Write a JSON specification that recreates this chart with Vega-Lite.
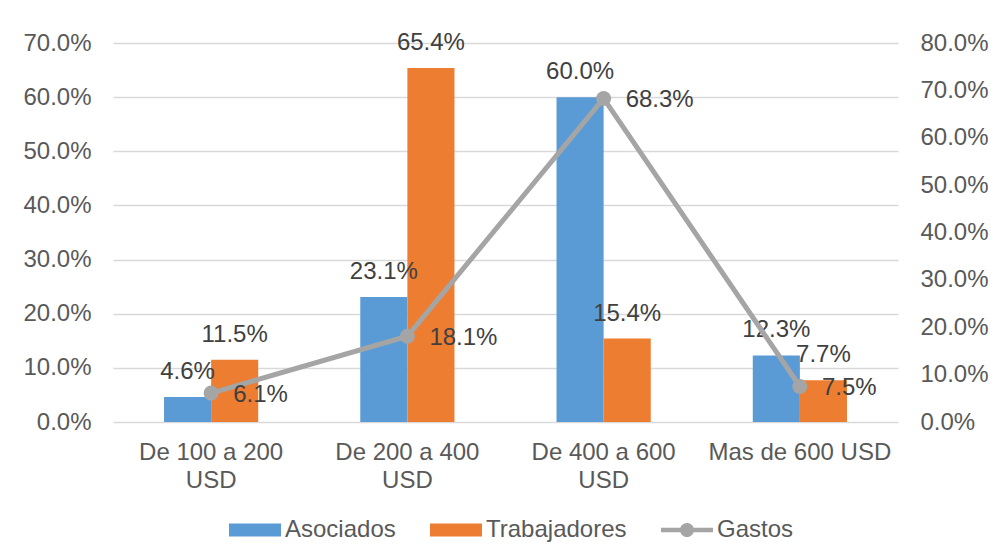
{
  "$schema": "https://vega.github.io/schema/vega-lite/v6.json",
  "width": 785,
  "height": 379,
  "autosize": {"type": "none"},
  "padding": {"left": 113, "top": 43, "right": 93, "bottom": 136},
  "background": "white",
  "config": {
    "font": "Liberation Sans",
    "view": {"stroke": null},
    "axis": {"labelFont": "Liberation Sans", "labelFontSize": 24, "labelColor": "#595959", "domain": false, "ticks": false, "title": null, "labelLimit": 0},
    "legend": {
      "orient": "none", "legendX": 116, "legendY": 461, "direction": "horizontal", "columns": 3,
      "title": null, "labelFont": "Liberation Sans", "labelFontSize": 24, "labelColor": "#595959",
      "symbolSize": 2704, "columnPadding": 34, "labelOffset": 4, "labelLimit": 0
    }
  },
  "data": {
    "values": [
      {"cat": "De 100 a 200 USD", "serie": "Asociados", "valor": 0.046},
      {"cat": "De 100 a 200 USD", "serie": "Trabajadores", "valor": 0.115},
      {"cat": "De 100 a 200 USD", "serie": "Gastos", "valor": 0.061},
      {"cat": "De 200 a 400 USD", "serie": "Asociados", "valor": 0.231},
      {"cat": "De 200 a 400 USD", "serie": "Trabajadores", "valor": 0.654},
      {"cat": "De 200 a 400 USD", "serie": "Gastos", "valor": 0.181},
      {"cat": "De 400 a 600 USD", "serie": "Asociados", "valor": 0.600},
      {"cat": "De 400 a 600 USD", "serie": "Trabajadores", "valor": 0.154},
      {"cat": "De 400 a 600 USD", "serie": "Gastos", "valor": 0.683},
      {"cat": "Mas de 600 USD", "serie": "Asociados", "valor": 0.123},
      {"cat": "Mas de 600 USD", "serie": "Trabajadores", "valor": 0.077},
      {"cat": "Mas de 600 USD", "serie": "Gastos", "valor": 0.075}
    ]
  },
  "encoding": {
    "x": {
      "field": "cat", "type": "nominal",
      "sort": ["De 100 a 200 USD", "De 200 a 400 USD", "De 400 a 600 USD", "Mas de 600 USD"],
      "scale": {"paddingInner": 0.52, "paddingOuter": 0.26},
      "axis": {
        "labelAngle": 0, "labelBaseline": "top", "labelPadding": 18, "labelLineHeight": 28, "labelLimit": 0,
        "labelExpr": "datum.value == 'Mas de 600 USD' ? datum.value : [replace(datum.value, ' USD', ''), 'USD']"
      }
    }
  },
  "layer": [
    {
      "transform": [{"filter": "datum.serie != 'Gastos'"}],
      "encoding": {
        "y": {
          "field": "valor", "type": "quantitative",
          "scale": {"domain": [0, 0.7]},
          "axis": {"orient": "left", "format": ".1%", "values": [0, 0.1, 0.2, 0.3, 0.4, 0.5, 0.6, 0.7], "grid": true, "gridColor": "#D9D9D9", "gridWidth": 1.5, "labelPadding": 22}
        },
        "xOffset": {"field": "serie", "type": "nominal", "sort": ["Asociados", "Trabajadores"], "scale": {"paddingInner": 0, "paddingOuter": 0}}
      },
      "layer": [
        {
          "mark": {"type": "bar"},
          "encoding": {
            "color": {
              "field": "serie", "type": "nominal",
              "scale": {"domain": ["Asociados", "Trabajadores", "Gastos"], "range": ["#5B9BD5", "#ED7D31", "#A5A5A5"]},
              "legend": {
                "encode": {
                  "symbols": {
                    "update": {
                      "shape": {"signal": "datum.value === 'Gastos' ? 'M-1,-0.09H1V0.09H-1Z M-0.27,0A0.27,0.27 0 1,1 0.27,0A0.27,0.27 0 1,1 -0.27,0Z' : 'M-1,-0.25H1V0.25H-1Z'"},
                      "strokeWidth": {"value": 0},
                      "opacity": {"value": 1}
                    }
                  }
                }
              }
            }
          }
        },
        {
          "mark": {"type": "text", "baseline": "middle", "dy": -25, "fontSize": 24, "color": "#404040", "font": "Liberation Sans"},
          "encoding": {"text": {"field": "valor", "type": "quantitative", "format": ".1%"}}
        }
      ]
    },
    {
      "transform": [{"filter": "datum.serie == 'Gastos'"}],
      "encoding": {
        "y": {
          "field": "valor", "type": "quantitative",
          "scale": {"domain": [0, 0.8]},
          "axis": {"orient": "right", "format": ".1%", "values": [0, 0.1, 0.2, 0.3, 0.4, 0.5, 0.6, 0.7, 0.8], "grid": false, "labelPadding": 22}
        }
      },
      "layer": [
        {
          "mark": {"type": "line", "strokeWidth": 5, "point": {"size": 225, "filled": true, "opacity": 1}},
          "encoding": {"color": {"field": "serie", "type": "nominal"}}
        },
        {
          "mark": {"type": "text", "align": "left", "baseline": "middle", "dx": 22, "dy": 2, "fontSize": 24, "color": "#404040", "font": "Liberation Sans"},
          "encoding": {"text": {"field": "valor", "type": "quantitative", "format": ".1%"}}
        }
      ]
    }
  ],
  "resolve": {"scale": {"y": "independent"}}
}
